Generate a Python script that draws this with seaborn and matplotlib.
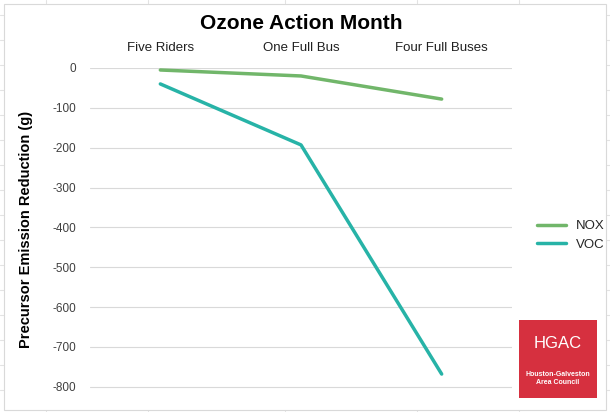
import matplotlib
matplotlib.use("Agg")
import matplotlib.pyplot as plt
import seaborn as sns
import pandas as pd
from matplotlib.patches import Rectangle

categories = ["Five Riders", "One Full Bus", "Four Full Buses"]
nox = [-5, -20, -78]
voc = [-40, -193, -768]
yticks = [0, -100, -200, -300, -400, -500, -600, -700, -800]

df = pd.DataFrame({"cat": categories * 2, "val": nox + voc,
                   "series": ["NOX"] * 3 + ["VOC"] * 3})

sns.set_style("white")
plt.rcParams["font.family"] = ["Liberation Sans", "DejaVu Sans"]
fig = plt.figure(figsize=(6.10, 4.12), dpi=100)
for x in [46, 148, 285, 417, 519]:
    fig.add_artist(plt.Line2D([x/610, x/610], [0, 1], color="#e3e3e3", lw=0.8, zorder=-2))
for y in [15, 40, 65, 90, 115, 140, 165, 190, 215, 240, 265, 290, 315, 340, 365, 390]:
    fig.add_artist(plt.Line2D([0, 1], [1-y/412, 1-y/412], color="#e3e3e3", lw=0.8, zorder=-2))
fig.add_artist(Rectangle((4/610, 2/412), 602/610, 406/412, transform=fig.transFigure,
                         facecolor="white", edgecolor="#d9d9d9", lw=0.8, zorder=-1))

ax = fig.add_axes([90/610, 1-390/412, 422/610, (390-68)/412])
ax.set_zorder(1)
ax.set_facecolor("none")
sns.lineplot(data=df, x="cat", y="val", hue="series", palette=["#71b66a", "#27b3a7"],
             lw=2.5, ax=ax, sort=False)
ax.set_ylim(-808, 0)
ax.set_xlim(-0.5, 2.5)
ax.set_yticks(yticks)
ax.set_yticklabels([str(t) for t in yticks], fontsize=8.5, color="#404040")
ax.grid(axis="y", color="#d9d9d9", lw=0.8)
ax.xaxis.tick_top()
ax.tick_params(axis="x", labelsize=9.5, colors="#202020", length=0, pad=10)
ax.tick_params(axis="y", length=0, pad=10)
for s in ax.spines.values():
    s.set_visible(False)
ax.set_xlabel("")
ax.set_ylabel("Precursor Emission Reduction (g)", fontsize=10.5, fontweight="bold", color="black", labelpad=14)
ax.set_title("Ozone Action Month", fontsize=15, fontweight="bold", pad=28, color="black")
ax.legend(loc="center left", bbox_to_anchor=(1.03, 0.48), frameon=False, fontsize=9.5,
          handlelength=2.2)

fig.add_artist(Rectangle((519/610, 1-398/412), 78/610, 78/412, transform=fig.transFigure,
                         facecolor="#d6303f", edgecolor="none", zorder=2))
fig.text(558/610, 1-343/412, "HGAC", color="white", fontsize=12, ha="center", va="center", zorder=3)
fig.text(558/610, 1-378/412, "Houston-Galveston\nArea Council", color="white",
         fontsize=5, ha="center", va="center", fontweight="bold", zorder=3)
fig.savefig("out.png", dpi=100)
